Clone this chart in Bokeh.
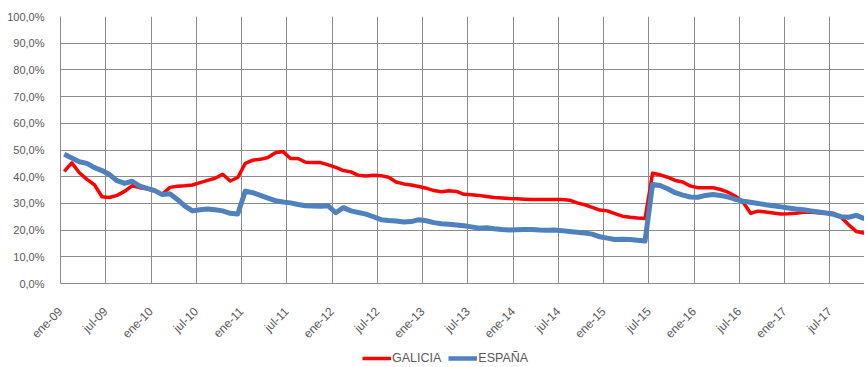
import math
from bokeh.plotting import figure
from bokeh.layouts import column
from bokeh.models import Range1d, FixedTicker, Legend, LegendItem
from bokeh.embed import file_html
from bokeh.resources import INLINE

tick_labels = ["ene-09", "jul-09", "ene-10", "jul-10", "ene-11", "jul-11",
               "ene-12", "jul-12", "ene-13", "jul-13", "ene-14", "jul-14",
               "ene-15", "jul-15", "ene-16", "jul-16", "ene-17", "jul-17"]

y_ticks = [0, 10, 20, 30, 40, 50, 60, 70, 80, 90, 100]

series_names = ["GALICIA", "ESPAÑA"]

galicia = [42.0, 45.2, 41.5, 39.0, 37.0, 32.5, 32.2, 33.0, 34.5, 36.6,
           35.9, 35.5, 34.6, 33.4, 36.0, 36.4, 36.6, 36.9, 37.8, 38.6,
           39.4, 40.9, 38.4, 39.7, 45.0, 46.2, 46.5, 47.2, 49.0, 49.4,
           46.8, 46.8, 45.4, 45.3, 45.3, 44.4, 43.5, 42.3, 41.8, 40.5,
           40.3, 40.5, 40.4, 39.8, 38.0, 37.3, 36.9, 36.3, 35.7, 34.8,
           34.4, 34.7, 34.5, 33.4, 33.2, 33.0, 32.6, 32.2, 32.0, 31.8,
           31.7, 31.6, 31.5, 31.5, 31.5, 31.5, 31.5, 31.2, 30.2, 29.5,
           28.5, 27.5, 27.2, 26.2, 25.2, 24.8, 24.5, 24.3, 41.3, 40.7,
           39.8, 38.6, 38.0, 36.5, 35.9, 35.9, 35.9, 35.2, 34.2, 32.7,
           30.5, 26.3, 27.1, 26.8, 26.4, 26.0, 26.1, 26.3, 26.7, 26.7,
           26.5, 26.4, 26.3, 24.8, 22.0, 19.5, 18.9, 18.7]

espana = [48.4, 47.0, 45.6, 45.0, 43.4, 42.3, 40.8, 38.5, 37.5, 38.3,
          36.5, 35.6, 34.8, 33.3, 33.6, 31.5, 29.0, 27.2, 27.6, 27.9,
          27.6, 27.2, 26.3, 26.0, 34.6, 34.0, 33.0, 32.0, 31.0, 30.5,
          30.2, 29.6, 29.1, 29.0, 28.9, 29.1, 26.5, 28.4, 27.2, 26.6,
          26.0, 25.0, 23.9, 23.6, 23.4, 23.0, 23.2, 23.9, 23.5, 22.8,
          22.4, 22.2, 21.9, 21.6, 21.2, 20.7, 20.9, 20.5, 20.2, 20.0,
          20.1, 20.2, 20.2, 20.0, 19.9, 20.0, 19.8, 19.5, 19.2, 18.9,
          18.5, 17.5, 17.0, 16.5, 16.6, 16.5, 16.2, 15.9, 37.1, 36.7,
          35.5, 34.0, 33.1, 32.4, 32.3, 33.0, 33.3, 33.0, 32.4, 31.5,
          30.8, 30.4, 30.0, 29.5, 29.1, 28.7, 28.3, 27.9, 27.6, 27.2,
          26.8, 26.4, 25.9, 25.0, 24.8, 25.5, 24.4, 24.0]

months = [i + 0.5 for i in range(len(galicia))]
x_ticks = [6 * k for k in range(len(tick_labels))]

RED = "#FF0000"
BLUE = "#4F81BD"
GRID = "#8C8C8C"
TXT = "#595959"
FONT = "Liberation Sans"

p = figure(width=864, height=349, output_backend="svg", toolbar_location=None,
           x_range=Range1d(0, 106.6), y_range=Range1d(0, 100),
           min_border_left=60, min_border_right=0, min_border_top=16,
           min_border_bottom=66)
p.outline_line_color = None
p.background_fill_color = "white"
p.border_fill_color = "white"

p.line(months, galicia, line_color=RED, line_width=3.5, line_join="round")
p.line(months, espana, line_color=BLUE, line_width=5, line_join="round")

p.xaxis.ticker = FixedTicker(ticks=x_ticks)
p.xaxis.major_label_overrides = {t: lab for t, lab in zip(x_ticks, tick_labels)}
p.xaxis.major_label_orientation = math.pi / 4
p.xaxis.major_label_standoff = 20
p.yaxis.ticker = FixedTicker(ticks=y_ticks)
p.yaxis.major_label_overrides = {t: f"{t},0%" for t in y_ticks}
p.yaxis.major_label_standoff = 10

for ax in (p.xaxis, p.yaxis):
    ax.axis_line_color = GRID
    ax.axis_line_width = 1
    ax.major_tick_line_color = None
    ax.minor_tick_line_color = None
    ax.major_label_text_font = FONT
    ax.major_label_text_color = TXT
p.yaxis.major_label_text_font_size = "11px"
p.xaxis.major_label_text_font_size = "12px"

p.xgrid.ticker = FixedTicker(ticks=x_ticks)
p.ygrid.ticker = FixedTicker(ticks=y_ticks)
for g in (p.xgrid, p.ygrid):
    g.grid_line_color = GRID
    g.grid_line_width = 1
    g.grid_line_alpha = 1

# legend strip below the chart (its frame is aligned with the chart's frame)
lg = figure(width=864, height=17, output_backend="svg", toolbar_location=None,
            x_range=Range1d(0, 1), y_range=Range1d(0, 1),
            x_axis_location=None, y_axis_location=None,
            min_border_left=60, min_border_right=0, min_border_top=0,
            min_border_bottom=0)
lg.outline_line_color = None
lg.border_fill_color = "white"
lg.xgrid.visible = False
lg.ygrid.visible = False
# one-point lines (draw nothing) used only as legend keys
k1 = lg.line(months[:1], galicia[:1], line_color=RED, line_width=3.5)
k2 = lg.line(months[:1], espana[:1], line_color=BLUE, line_width=4.5)

legend = Legend(items=[LegendItem(label=series_names[0], renderers=[k1]),
                       LegendItem(label=series_names[1], renderers=[k2])],
                location=(302, 1), orientation="horizontal",
                glyph_width=29, glyph_height=14, label_height=14,
                label_standoff=1, spacing=7, padding=0, margin=0,
                border_line_color=None, background_fill_alpha=0,
                label_text_font=FONT, label_text_font_size="12.5px",
                label_text_color=TXT)
lg.add_layout(legend)

open("out.html", "w").write(file_html(column(p, lg, spacing=0), INLINE))
